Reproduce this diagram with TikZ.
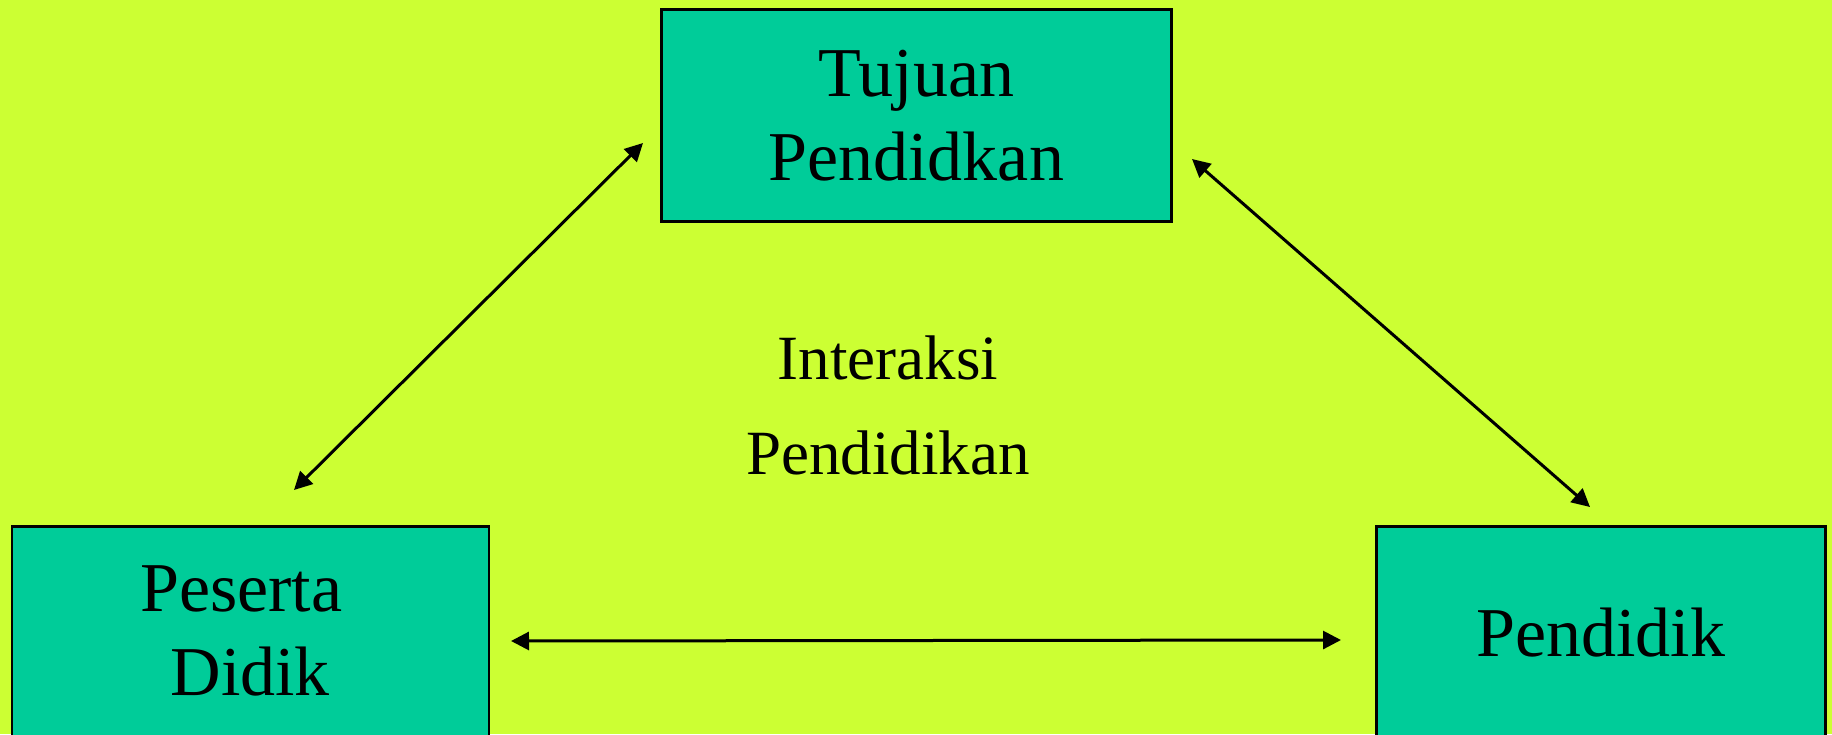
\documentclass[tikz,border=0pt]{standalone}
\usepackage{fontspec}
\setmainfont{Liberation Serif}
\usetikzlibrary{arrows.meta}
\definecolor{bg}{HTML}{CCFF33}
\definecolor{boxc}{HTML}{00CC99}
\tikzset{
  box/.style={draw=black, line width=2.5pt, fill=boxc, inner sep=0pt, anchor=north west, align=center,
    font=\fontsize{70}{84}\selectfont},
  conn/.style={line width=3pt, {Triangle[length=18pt,width=18pt]}-{Triangle[length=18pt,width=18pt]}}
}
\begin{document}
\begin{tikzpicture}[x=1pt,y=-1pt]
\useasboundingbox (0,0) rectangle (1832,734);
\clip (0,0) rectangle (1832,734);
\fill[bg] (0,0) rectangle (1832,734);
\node[box, minimum width=510pt, minimum height=212pt] (tujuan) at (660,8) {Tujuan\\Pendidkan};
\node[box, minimum width=477pt, minimum height=210pt] (peserta) at (10.5,525) {Peserta\hspace*{18pt}\\Didik};
\node[box, minimum width=449pt, minimum height=213pt] (pendidik) at (1375,525) {Pendidik};
\node[align=center, font=\fontsize{63}{95}\selectfont] (inter) at (888,405) {Interaksi\\Pendidikan};
\coordinate (l1) at (294,490);
\coordinate (l2) at (643,143);
\coordinate (r1) at (1192,159);
\coordinate (r2) at (1590,507);
\coordinate (h1) at (511,641);
\coordinate (h2) at (1341,640);
\draw[conn] (l1) -- (l2);
\draw[conn] (r1) -- (r2);
\draw[conn] (h1) -- (h2);
\end{tikzpicture}
\end{document}
